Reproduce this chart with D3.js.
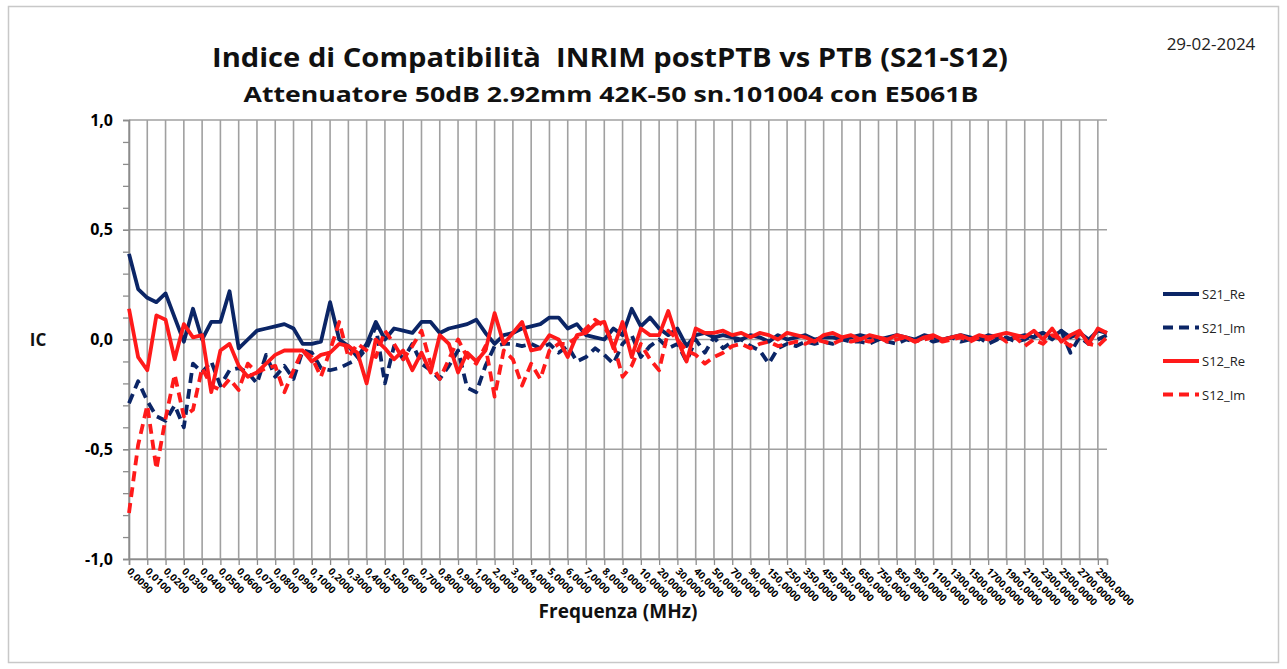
<!DOCTYPE html>
<html>
<head>
<meta charset="utf-8">
<script src="https://cdn.jsdelivr.net/npm/d3@7"></script>
<style>
  body { margin: 0; background: #fff; }
  svg text { font-family: "Open Sans", "Noto Sans", sans-serif; white-space: pre; }
</style>
</head>
<body>
<svg id="chart" width="1287" height="669"></svg>
<script>
// frequencies (MHz), one per category, label shown on every other one
const freqs = [0.009, 0.0095, 0.01, 0.015, 0.02, 0.025, 0.03, 0.035, 0.04, 0.045,
  0.05, 0.055, 0.06, 0.065, 0.07, 0.075, 0.08, 0.085, 0.09, 0.095,
  0.1, 0.15, 0.2, 0.25, 0.3, 0.35, 0.4, 0.45, 0.5, 0.55,
  0.6, 0.65, 0.7, 0.75, 0.8, 0.85, 0.9, 0.95, 1, 1.5,
  2, 2.5, 3, 3.5, 4, 4.5, 5, 5.5, 6, 6.5,
  7, 7.5, 8, 8.5, 9, 9.5, 10, 15, 20, 25,
  30, 35, 40, 45, 50, 60, 70, 80, 90, 100,
  150, 200, 250, 300, 350, 400, 450, 500, 550, 600,
  650, 700, 750, 800, 850, 900, 950, 1000, 1100, 1200,
  1300, 1400, 1500, 1600, 1700, 1800, 1900, 2000, 2100, 2200,
  2300, 2400, 2500, 2600, 2700, 2800, 2900, 3000];

const s21Re = [0.39, 0.23, 0.19, 0.17, 0.21, 0.10, -0.01, 0.14, 0.00, 0.08,
  0.08, 0.22, -0.04, 0.00, 0.04, 0.05, 0.06, 0.07, 0.05, -0.02,
  -0.02, -0.01, 0.17, 0.00, -0.03, -0.08, -0.02, 0.08, 0.00, 0.05,
  0.04, 0.03, 0.08, 0.08, 0.03, 0.05, 0.06, 0.07, 0.09, 0.03,
  -0.02, 0.02, 0.03, 0.05, 0.06, 0.07, 0.10, 0.10, 0.05, 0.07,
  0.02, 0.01, 0.00, 0.05, 0.02, 0.14, 0.06, 0.10, 0.05, 0.02,
  0.05, -0.03, 0.02, 0.03, 0.01, 0.02, 0.01, 0.00, 0.02, 0.01,
  -0.01, 0.02, 0.00, 0.01, 0.02, 0.00, 0.01, 0.01, 0.00, 0.01,
  0.02, 0.01, 0.00, 0.01, 0.02, 0.01, 0.00, 0.02, 0.01, 0.00,
  0.01, 0.02, 0.01, 0.00, 0.02, 0.01, 0.00, 0.01, 0.02, 0.01,
  0.03, 0.01, 0.04, 0.01, 0.03, 0.00, 0.04, 0.03];

const s21Im = [-0.29, -0.19, -0.28, -0.35, -0.37, -0.30, -0.40, -0.11, -0.15, -0.10,
  -0.21, -0.14, -0.13, -0.15, -0.20, -0.07, -0.17, -0.12, -0.18, -0.05,
  -0.06, -0.13, -0.14, -0.13, -0.11, -0.09, -0.04, 0.06, -0.20, -0.03,
  -0.09, -0.02, -0.11, -0.14, -0.18, -0.12, -0.05, -0.22, -0.24, -0.12,
  -0.03, -0.02, -0.02, -0.03, -0.02, -0.04, -0.02, -0.06, -0.03, -0.10,
  -0.08, -0.04, -0.07, -0.11, -0.02, 0.02, -0.08, -0.03, 0.00, -0.04,
  -0.02, -0.10, 0.00, -0.06, 0.01, -0.04, -0.01, 0.00, -0.03, -0.05,
  -0.11, -0.04, -0.02, -0.03, -0.01, -0.02, -0.01, -0.02, 0.00, -0.01,
  -0.01, -0.02, 0.00, -0.01, -0.02, 0.00, -0.01, 0.01, -0.01, 0.00,
  0.01, -0.01, 0.00, 0.01, -0.02, 0.00, 0.01, -0.01, 0.00, 0.02,
  0.03, 0.00, 0.04, -0.06, 0.01, -0.02, 0.00, 0.02];

const s12Re = [0.14, -0.08, -0.14, 0.11, 0.09, -0.09, 0.07, 0.01, 0.02, -0.24,
  -0.05, -0.02, -0.12, -0.17, -0.15, -0.11, -0.07, -0.05, -0.05, -0.05,
  -0.10, -0.07, -0.06, -0.02, -0.03, -0.06, -0.20, 0.00, -0.04, -0.09,
  -0.05, -0.14, -0.06, -0.15, 0.02, -0.02, -0.15, -0.06, -0.10, -0.05,
  0.12, -0.02, 0.03, 0.08, -0.05, -0.04, 0.02, 0.00, -0.08, 0.02,
  0.03, 0.07, 0.08, -0.04, 0.08, -0.08, 0.05, 0.02, 0.02, 0.13,
  0.00, -0.10, 0.05, 0.03, 0.03, 0.04, 0.02, 0.03, 0.01, 0.03,
  0.02, 0.00, 0.03, 0.02, 0.01, -0.01, 0.02, 0.03, 0.01, 0.02,
  0.00, 0.02, 0.01, 0.00, 0.02, 0.01, -0.01, 0.01, 0.02, 0.00,
  0.01, 0.02, 0.00, 0.02, 0.01, 0.02, 0.03, 0.02, 0.01, 0.04,
  0.00, 0.05, -0.01, 0.02, 0.04, -0.02, 0.05, 0.03];

const s12Im = [-0.79, -0.48, -0.30, -0.59, -0.36, -0.16, -0.35, -0.32, -0.13, -0.21,
  -0.23, -0.18, -0.23, -0.11, -0.15, -0.13, -0.12, -0.24, -0.14, -0.05,
  -0.08, -0.17, -0.05, 0.08, -0.08, -0.02, -0.05, -0.08, 0.04, -0.02,
  -0.09, -0.03, 0.04, -0.11, -0.18, -0.09, 0.00, -0.08, -0.11, -0.03,
  -0.26, -0.05, -0.09, -0.21, -0.11, -0.18, -0.05, -0.02, -0.02, 0.01,
  0.05, 0.09, 0.06, -0.02, -0.17, -0.12, -0.02, -0.09, -0.14, 0.04,
  0.00, -0.05, -0.07, -0.11, -0.08, -0.06, -0.03, -0.02, -0.04, -0.02,
  -0.01, -0.03, -0.02, -0.01, -0.02, 0.00, -0.01, -0.02, 0.00, -0.01,
  0.00, -0.01, 0.01, -0.01, 0.00, 0.01, -0.01, 0.00, 0.01, -0.01,
  0.00, 0.01, -0.01, 0.01, 0.00, 0.02, -0.01, 0.01, -0.03, 0.00,
  -0.02, 0.02, 0.00, -0.03, 0.03, -0.02, -0.03, 0.01];

const yTicks = [-1, -0.5, 0, 0.5, 1];

const series = [
  {name: "S21_Re", values: s21Re, color: "#0b2566", dash: null},
  {name: "S21_Im", values: s21Im, color: "#0b2566", dash: "10,6"},
  {name: "S12_Re", values: s12Re, color: "#ff1a1a", dash: null},
  {name: "S12_Im", values: s12Im, color: "#ff1a1a", dash: "10,6"}
];

const svg = d3.select("#chart");
const W = 1287, H = 669;
const M = {top: 120, right: 180, bottom: 110, left: 129};

// chart area frame
svg.append("rect")
  .attr("x", 8.5).attr("y", 6.5)
  .attr("width", W - 17).attr("height", H - 13)
  .attr("fill", "#fff").attr("stroke", "#c8c8c8").attr("stroke-width", 1.5);

let idx = d3.range(freqs.length);
let xScale = d3.scalePoint().domain(idx).range([M.left, W - M.right]);
let yScale = d3.scaleLinear().domain([-1, 1]).range([H - M.bottom, M.top]);
let labelIdx = idx.filter(i => i % 2 === 0 && i < freqs.length - 1);

const fmtFreq = d => d3.format(".4f")(d).replace(".", ",");
const fmtY = d => d3.format(".1f")(d).replace(".", ",").replace("\u2212", "-");

// grid
let grid = svg.append("g");
grid.selectAll(".vg").data(labelIdx).enter().append("line")
  .attr("x1", d => xScale(d)).attr("x2", d => xScale(d))
  .attr("y1", M.top).attr("y2", H - M.bottom)
  .attr("stroke", "#a0a0a0").attr("stroke-width", 1.6);
grid.selectAll(".hg").data(yTicks).enter().append("line")
  .attr("x1", M.left).attr("x2", W - M.right)
  .attr("y1", d => yScale(d)).attr("y2", d => yScale(d))
  .attr("stroke", "#a0a0a0").attr("stroke-width", 1.6);

// y axis with minor ticks
let yMinor = d3.axisLeft(yScale).tickValues(d3.range(-10, 11).map(d => d / 10)).tickSize(6).tickFormat("");
let gyMinor = svg.append("g").attr("transform", "translate(" + M.left + ",0)").call(yMinor);
gyMinor.select(".domain").remove();
gyMinor.selectAll("line").attr("stroke", "#8c8c8c").attr("stroke-width", 1.3);

let yAxis = d3.axisLeft(yScale).tickValues(yTicks).tickSize(6).tickPadding(10).tickFormat(fmtY);
let gy = svg.append("g").attr("transform", "translate(" + M.left + ",0)").call(yAxis);
gy.select(".domain").attr("stroke", "#8c8c8c").attr("stroke-width", 1.6);
gy.selectAll("line").attr("stroke", "#8c8c8c").attr("stroke-width", 1.3);
gy.selectAll("text").attr("font-size", 16).attr("font-weight", "bold").attr("fill", "#000");

// x axis
let xAxis = d3.axisBottom(xScale).tickValues(labelIdx).tickSize(6).tickFormat(i => fmtFreq(freqs[i]));
let gx = svg.append("g").attr("transform", "translate(0," + (H - M.bottom) + ")").call(xAxis);
gx.select(".domain").attr("stroke", "#8c8c8c").attr("stroke-width", 1.6);
gx.selectAll("line").attr("stroke", "#8c8c8c").attr("stroke-width", 1.3);
gx.selectAll("text")
  .attr("font-size", 10).attr("font-weight", "bold").attr("fill", "#000")
  .attr("text-anchor", "start").attr("dy", 0).attr("y", 0)
  .attr("transform", "translate(-3,13) rotate(45)");

// lines
let lineGen = d3.line()
  .x((d, i) => xScale(i))
  .y(d => yScale(d));
series.forEach(s => {
  svg.append("path")
    .attr("d", lineGen(s.values))
    .attr("fill", "none")
    .attr("stroke", s.color)
    .attr("stroke-width", 3.8)
    .attr("stroke-linejoin", "round")
    .attr("stroke-dasharray", s.dash);
});

// legend
let leg = svg.append("g").attr("transform", "translate(1163,294)");
series.forEach((s, i) => {
  let g = leg.append("g").attr("transform", "translate(0," + (i * 33.5) + ")");
  g.append("line").attr("x1", 0).attr("x2", 36).attr("y1", 0).attr("y2", 0)
    .attr("stroke", s.color).attr("stroke-width", 3.8).attr("stroke-dasharray", s.dash);
  g.append("text").attr("x", 39).attr("y", 5).attr("font-size", 13).attr("fill", "#222").text(s.name);
});

// titles
svg.append("text").attr("x", 610).attr("y", 67).attr("text-anchor", "middle")
  .attr("font-size", 27).attr("font-weight", "bold").attr("fill", "#111")
  .attr("textLength", 796).attr("lengthAdjust", "spacingAndGlyphs")
  .text("Indice di Compatibilità  INRIM postPTB vs PTB (S21-S12)");
svg.append("text").attr("x", 611).attr("y", 102).attr("text-anchor", "middle")
  .attr("font-size", 21).attr("font-weight", "bold").attr("fill", "#111")
  .attr("textLength", 735).attr("lengthAdjust", "spacingAndGlyphs")
  .text("Attenuatore 50dB 2.92mm 42K-50 sn.101004 con E5061B");
svg.append("text").attr("x", 1211).attr("y", 50).attr("text-anchor", "middle")
  .attr("font-size", 17).attr("fill", "#222")
  .text("29-02-2024");
svg.append("text").attr("x", 38).attr("y", 346).attr("text-anchor", "middle")
  .attr("font-size", 17).attr("font-weight", "bold").attr("fill", "#111").text("IC");
svg.append("text").attr("x", 618).attr("y", 618).attr("text-anchor", "middle")
  .attr("font-size", 19).attr("font-weight", "bold").attr("fill", "#111")
  .text("Frequenza (MHz)");
</script>
</body>
</html>
